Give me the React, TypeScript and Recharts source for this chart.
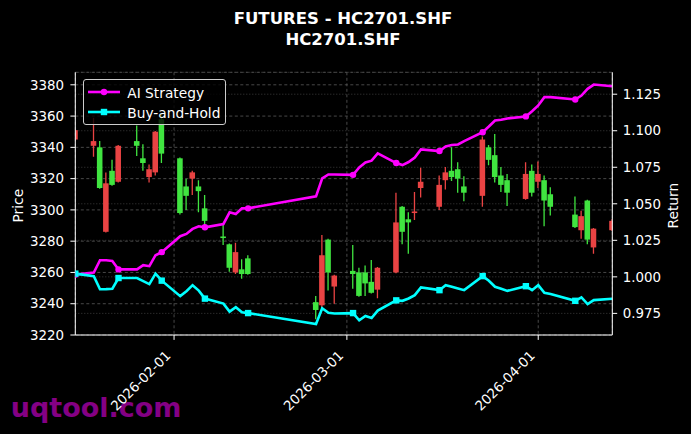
import React from "react";
import {
  Bar,
  CartesianGrid,
  ComposedChart,
  Legend,
  Line,
  XAxis,
  YAxis,
} from "recharts";

const dates = [
  "2026-01-16", "2026-01-19", "2026-01-20", "2026-01-21", "2026-01-22", "2026-01-23",
  "2026-01-26", "2026-01-27", "2026-01-28", "2026-01-29", "2026-01-30",
  "2026-02-02", "2026-02-03", "2026-02-04", "2026-02-05", "2026-02-06",
  "2026-02-09", "2026-02-10", "2026-02-11", "2026-02-12", "2026-02-13",
  "2026-02-24", "2026-02-25", "2026-02-26", "2026-02-27",
  "2026-03-02", "2026-03-03", "2026-03-04", "2026-03-05", "2026-03-06",
  "2026-03-09", "2026-03-10", "2026-03-11", "2026-03-12", "2026-03-13",
  "2026-03-16", "2026-03-17", "2026-03-18", "2026-03-19", "2026-03-20",
  "2026-03-23", "2026-03-24", "2026-03-25", "2026-03-26", "2026-03-27",
  "2026-03-30", "2026-03-31", "2026-04-01", "2026-04-02", "2026-04-03",
  "2026-04-07", "2026-04-08", "2026-04-09", "2026-04-10", "2026-04-13",
];

const opens = [
  3345, 3341, 3340, 3286, 3325, 3318,
  3344, 3333, 3321, 3324, 3358,
  3333, 3315, 3320, 3315, 3301,
  3283, 3278, 3260, 3262, 3269,
  3241, 3239, 3281, 3251,
  3261, 3260, 3260, 3254, 3249,
  3260, 3302, 3294, 3298, 3314,
  3302, 3319, 3325, 3326, 3315,
  3309, 3340, 3335, 3322, 3319,
  3307, 3325, 3318, 3319, 3310,
  3297, 3287, 3306, 3276, 3287,
];

const highs = [
  3351.5, 3359, 3344, 3324, 3332, 3341.5,
  3354, 3342, 3329, 3350.5, 3362,
  3333.5, 3320, 3325, 3319, 3309.5,
  3291, 3278.5, 3279, 3268.5, 3271,
  3245, 3284, 3281.5, 3258.5,
  3277.5, 3263, 3264.5, 3268, 3263.5,
  3311, 3302.5, 3298.5, 3311.5, 3327,
  3322, 3327.5, 3340, 3330.5, 3321.5,
  3347, 3341.5, 3348.5, 3327.5, 3323,
  3330.5, 3329, 3331, 3322, 3314.5,
  3308.5, 3299.5, 3306.5, 3288.5, 3294,
];

const lows = [
  3344, 3334, 3313.5, 3285.5, 3315.5, 3317.5,
  3334.5, 3325, 3317.5, 3322, 3330,
  3297, 3300, 3309.5, 3298.5, 3289,
  3277.5, 3260.5, 3259, 3256, 3258.5,
  3230, 3237, 3248.5, 3240,
  3249.5, 3244.5, 3245, 3246.5, 3243.5,
  3259.5, 3278, 3272, 3293.5, 3308,
  3300, 3313, 3318.5, 3311, 3305.5,
  3302, 3328.5, 3317.5, 3311.5, 3302.5,
  3306.5, 3308.5, 3314, 3289.5, 3296.5,
  3288.5, 3281.5, 3278, 3272, 3286.5,
];

const closes = [
  3351, 3344, 3314, 3317, 3316, 3341,
  3341, 3330, 3326, 3350, 3336,
  3298, 3309, 3324, 3312, 3293,
  3282, 3263, 3273, 3259, 3259,
  3236, 3271, 3260, 3258,
  3259, 3245, 3253, 3247, 3263,
  3292, 3286, 3292, 3299, 3318,
  3316, 3324, 3321, 3320, 3311,
  3345, 3332, 3321, 3316, 3311,
  3323, 3311, 3323, 3306, 3302,
  3289, 3296, 3281, 3288, 3293,
];

const aiStrategy = [
  1.0015, 1.0029, 1.0114, 1.0114, 1.0109, 1.0051,
  1.0051, 1.008, 1.0073, 1.0148, 1.0169,
  1.0278, 1.0294, 1.0328, 1.0346, 1.0339,
  1.0362, 1.0442, 1.043, 1.0469, 1.0469,
  1.0551, 1.0674, 1.0701, 1.0701,
  1.0698, 1.0749, 1.0783, 1.0795, 1.0845,
  1.0779, 1.0765, 1.0786, 1.0816, 1.0872,
  1.0861, 1.0893, 1.0902, 1.0906, 1.0929,
  1.099, 1.1029, 1.107, 1.1075, 1.1084,
  1.1098, 1.1134, 1.1173, 1.123, 1.123,
  1.1214, 1.1241, 1.1287, 1.1316, 1.1305,
];

const buyHold = [
  1.0022, 1.0005, 0.9915, 0.9916, 0.9919, 0.9992,
  0.9992, 0.9971, 0.995, 1.0022, 0.9974,
  0.9868, 0.9902, 0.9943, 0.9906, 0.9851,
  0.9817, 0.9762, 0.9792, 0.9757, 0.9752,
  0.9677, 0.9785, 0.9754, 0.9749,
  0.9752, 0.9703, 0.9732, 0.9718, 0.9769,
  0.9839, 0.9836, 0.9852, 0.9875, 0.9928,
  0.9909, 0.9943, 0.9933, 0.9921, 0.9909,
  1.0005, 0.9973, 0.9932, 0.9918, 0.9904,
  0.9936, 0.9909, 0.9943, 0.9891, 0.9882,
  0.9836, 0.9859, 0.9814, 0.9841, 0.985,
];

const dateTicks = ["2026-02-01", "2026-03-01", "2026-04-01"];
const priceTicks = [3220, 3240, 3260, 3280, 3300, 3320, 3340, 3360, 3380];
const returnTicks = [0.975, 1.0, 1.025, 1.05, 1.075, 1.1, 1.125];

const FONT = "'DejaVu Sans', sans-serif";
const TICK_SIZE = 13.4;
const UP = "#e94343";
const DOWN = "#40e440";
const AI_COLOR = "#ff00ff";
const BH_COLOR = "#00ffff";

const toTime = (d: string) => Date.parse(d + "T00:00:00Z");

const rows = dates.map((d, i) => ({
  t: toTime(d),
  open: opens[i],
  high: highs[i],
  low: lows[i],
  close: closes[i],
  range: [lows[i], highs[i]],
  ai: aiStrategy[i],
  bh: buyHold[i],
}));

const xDomain = [rows[0].t, rows[rows.length - 1].t];

// wick + body, drawn inside the [low, high] bar that recharts positions
function Candle(props: any) {
  const { x, y, width, height, payload } = props;
  if (height == null || !payload) return <g />;
  const { open, close, high, low } = payload;
  const color = close >= open ? UP : DOWN;
  const ppu = height / (high - low);
  const yo = y + (high - open) * ppu;
  const yc = y + (high - close) * ppu;
  const top = Math.min(yo, yc);
  const h = Math.max(Math.abs(yo - yc), 1.2);
  const cx = x + width / 2;
  return (
    <g>
      <line x1={cx} x2={cx} y1={y} y2={y + height} stroke={color} strokeWidth={1.3} />
      <rect x={x} y={top} width={width} height={h} fill={color} />
    </g>
  );
}

function DateTick({ x, y, payload }: any) {
  const label = new Date(payload.value).toISOString().slice(0, 10);
  const ax = x - 2.5;
  const ay = y + 16.6;
  return (
    <text
      x={ax}
      y={ay}
      transform={`rotate(-45 ${ax} ${ay})`}
      textAnchor="end"
      fill="#ffffff"
      fontSize={TICK_SIZE}
      fontFamily={FONT}
    >
      {label}
    </text>
  );
}

function aiDot(props: any) {
  const { cx, cy, index } = props;
  if (index % 5 !== 0) return <g key={`a${index}`} />;
  return <circle key={`a${index}`} cx={cx} cy={cy} r={3.2} fill={AI_COLOR} />;
}

function bhDot(props: any) {
  const { cx, cy, index } = props;
  if (index % 5 !== 0) return <g key={`b${index}`} />;
  return <rect key={`b${index}`} x={cx - 3.2} y={cy - 3.2} width={6.4} height={6.4} fill={BH_COLOR} />;
}

function LegendBox({ payload }: any) {
  const items = (payload || []).filter((p: any) => p.dataKey === "ai" || p.dataKey === "bh");
  return (
    <div
      style={{
        position: "relative",
        width: 143.3,
        height: 45.7,
        boxSizing: "border-box",
        border: "1px solid #cccccc",
        borderRadius: 3,
        background: "rgba(0,0,0,0.8)",
        fontFamily: FONT,
      }}
    >
      {items.map((p: any, i: number) => {
        const cy = i === 0 ? 12.4 : 33;
        return (
          <div key={p.dataKey}>
            <svg
              width={34}
              height={10}
              style={{ position: "absolute", left: 3, top: cy - 6 }}
            >
              <line x1={1} x2={33} y1={5} y2={5} stroke={p.color} strokeWidth={2.6} />
              {p.dataKey === "ai" ? (
                <circle cx={17} cy={5} r={3.2} fill={p.color} />
              ) : (
                <rect x={13.8} y={1.8} width={6.4} height={6.4} fill={p.color} />
              )}
            </svg>
            <span
              style={{
                position: "absolute",
                left: 43.6,
                top: cy - 10,
                lineHeight: "20px",
                fontSize: 13.75,
                color: "#ffffff",
                whiteSpace: "nowrap",
              }}
            >
              {p.value}
            </span>
          </div>
        );
      })}
    </div>
  );
}

export default function App() {
  return (
    <div
      style={{
        position: "fixed",
        left: 0,
        top: 0,
        width: 691,
        height: 434,
        background: "#000000",
        overflow: "hidden",
      }}
    >
      <svg
        width={691}
        height={434}
        style={{ position: "absolute", left: 0, top: 0 }}
        fontFamily={FONT}
      >
        <text x={343} y={24} textAnchor="middle" fill="#ffffff" fontSize={16.5} fontWeight="bold">
          FUTURES - HC2701.SHF
        </text>
        <text x={343} y={45} textAnchor="middle" fill="#ffffff" fontSize={16.5} fontWeight="bold">
          HC2701.SHF
        </text>
        <text x={10.7} y={417.3} fill="#840084" fontSize={27} fontWeight="bold">
          uqtool.com
        </text>
      </svg>
      <div style={{ position: "absolute", left: 0, top: 0 }}>
        <ComposedChart
          width={691}
          height={434}
          data={rows}
          margin={{ top: 72.3, right: 0, bottom: 0, left: 0 }}
        >
          <CartesianGrid
            yAxisId="left"
            stroke="#5a5a5a"
            strokeWidth={0.8}
            strokeDasharray="3 2.5"
          />
          <CartesianGrid
            yAxisId="right"
            vertical={false}
            stroke="#4a4a4a"
            strokeWidth={0.8}
            strokeDasharray="1 2"
          />
          <XAxis
            dataKey="t"
            type="number"
            domain={xDomain}
            ticks={dateTicks.map(toTime)}
            allowDataOverflow
            height={99}
            tick={<DateTick />}
            tickSize={4.9}
            tickMargin={0}
            tickLine={{ stroke: "#ffffff" }}
            axisLine={{ stroke: "#ffffff" }}
            interval={0}
          />
          <XAxis
            xAxisId="top"
            dataKey="t"
            type="number"
            orientation="top"
            domain={xDomain}
            allowDataOverflow
            height={0}
            tick={false}
            tickLine={false}
            axisLine={{ stroke: "#ffffff" }}
          />
          <YAxis
            yAxisId="left"
            orientation="left"
            width={75.3}
            domain={[3220, 3388]}
            ticks={priceTicks}
            allowDataOverflow
            interval={0}
            tickSize={4.9}
            tickMargin={6.4}
            tick={{ fill: "#ffffff", fontSize: TICK_SIZE, fontFamily: FONT }}
            tickLine={{ stroke: "#ffffff" }}
            axisLine={{ stroke: "#ffffff" }}
            label={({ viewBox }: any) => (
              <text
                x={18}
                y={viewBox.y + viewBox.height / 2 + 2}
                transform={`rotate(-90 18 ${viewBox.y + viewBox.height / 2 + 2})`}
                textAnchor="middle"
                dominantBaseline="central"
                fill="#ffffff"
                fontSize={13.75}
                fontFamily={FONT}
              >
                Price
              </text>
            )}
          />
          <YAxis
            yAxisId="right"
            orientation="right"
            width={78.7}
            domain={[0.9602, 1.14]}
            ticks={returnTicks}
            allowDataOverflow
            interval={0}
            tickSize={4.9}
            tickMargin={5.5}
            tickFormatter={(v: number) => v.toFixed(3)}
            tick={{ fill: "#ffffff", fontSize: TICK_SIZE, fontFamily: FONT }}
            tickLine={{ stroke: "#ffffff" }}
            axisLine={{ stroke: "#ffffff" }}
            label={({ viewBox }: any) => (
              <text
                x={673.5}
                y={viewBox.y + viewBox.height / 2 + 2}
                transform={`rotate(-90 673.5 ${viewBox.y + viewBox.height / 2 + 2})`}
                textAnchor="middle"
                dominantBaseline="central"
                fill="#ffffff"
                fontSize={13.75}
                fontFamily={FONT}
              >
                Return
              </text>
            )}
          />
          <Bar
            yAxisId="left"
            dataKey="range"
            barSize={6.6}
            shape={<Candle />}
            legendType="none"
            isAnimationActive={false}
          />
          <Line
            yAxisId="right"
            dataKey="ai"
            name="AI Strategy"
            stroke={AI_COLOR}
            strokeWidth={2.6}
            dot={aiDot}
            activeDot={false}
            isAnimationActive={false}
          />
          <Line
            yAxisId="right"
            dataKey="bh"
            name="Buy-and-Hold"
            stroke={BH_COLOR}
            strokeWidth={2.6}
            dot={bhDot}
            activeDot={false}
            isAnimationActive={false}
          />
          <Legend
            layout="vertical"
            align="center"
            verticalAlign="middle"
            content={<LegendBox />}
            wrapperStyle={{ left: 82.7, top: 79.3, width: 143.3, height: 45.7 }}
          />
        </ComposedChart>
      </div>
    </div>
  );
}
